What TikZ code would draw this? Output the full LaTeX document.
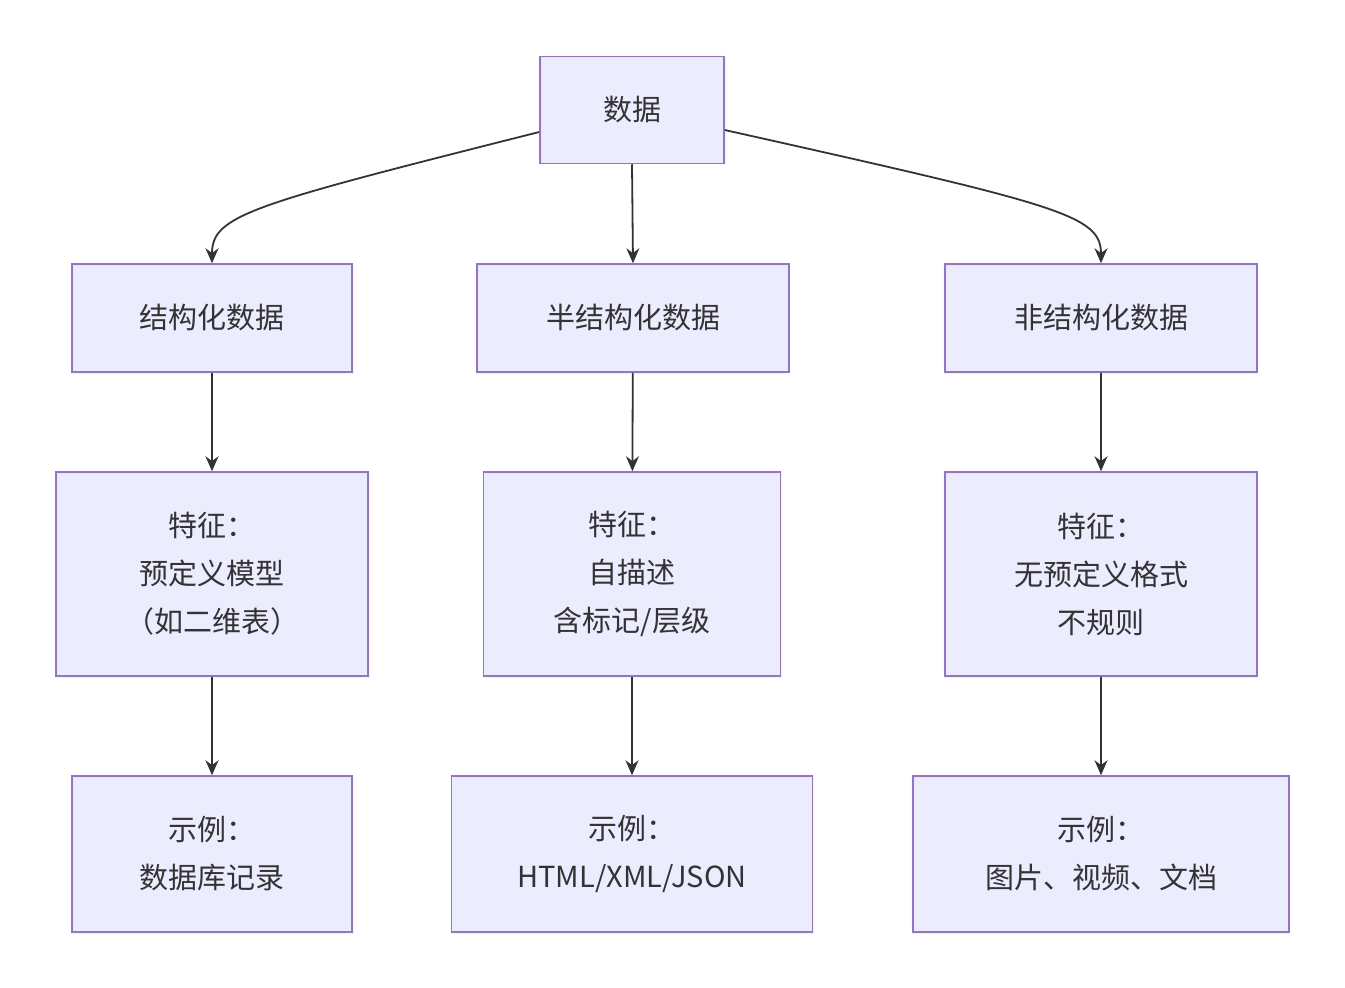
\documentclass[tikz,border=0pt]{standalone}
\usepackage{fontspec}
\setmainfont{Noto Sans CJK SC}
\usetikzlibrary{arrows.meta}
\definecolor{boxfill}{HTML}{ECECFF}
\definecolor{boxline}{HTML}{9370DB}
\definecolor{ink}{HTML}{333333}
\tikzset{
  databox/.style={draw=boxline, fill=boxfill, line width=1.5pt, text=ink,
    align=center, inner sep=0pt, font=\fontsize{29}{48}\selectfont},
  flow/.style={draw=ink, line width=1.8pt, -{Stealth[length=15pt,width=13pt]}}
}
\begin{document}
\begin{tikzpicture}[x=1pt,y=-1pt]
  \useasboundingbox (0,0) rectangle (1345,988);
  % top
  \node[databox, minimum width=184pt, minimum height=107pt] (root) at (632,110) {数据};
  % categories
  \node[databox, minimum width=280pt, minimum height=108pt] (s) at (212,318) {结构化数据};
  \node[databox, minimum width=312pt, minimum height=108pt] (m) at (633,318) {半结构化数据};
  \node[databox, minimum width=312pt, minimum height=108pt] (u) at (1101,318) {非结构化数据};
  % features
  \node[databox, minimum width=312pt, minimum height=204pt] (sf) at (212,574) {特征：\\预定义模型\\（如二维表）};
  \node[databox, minimum width=297pt, minimum height=204pt] (mf) at (632,574) {特征：\\自描述\\含标记/层级};
  \node[databox, minimum width=312pt, minimum height=204pt] (uf) at (1101,574) {特征：\\无预定义格式\\不规则};
  % examples
  \node[databox, minimum width=280pt, minimum height=156pt] (se) at (212,854) {示例：\\数据库记录};
  \node[databox, minimum width=361pt, minimum height=156pt] (me) at (632,854) {示例：\\HTML/XML/JSON};
  \node[databox, minimum width=376pt, minimum height=156pt] (ue) at (1101,854) {示例：\\图片、视频、文档};

  \draw[flow] (root.west |- 0,132) .. controls (250,205) and (212,215) .. (s.north);
  \draw[flow] (root.south) -- (m.north);
  \draw[flow] (root.east |- 0,130) .. controls (1060,205) and (1101,215) .. (u.north);
  \draw[flow] (s) -- (sf);
  \draw[flow] (m) -- (mf);
  \draw[flow] (u) -- (uf);
  \draw[flow] (sf) -- (se);
  \draw[flow] (mf.south) -- (me.north);
  \draw[flow] (uf) -- (ue);
\end{tikzpicture}
\end{document}
